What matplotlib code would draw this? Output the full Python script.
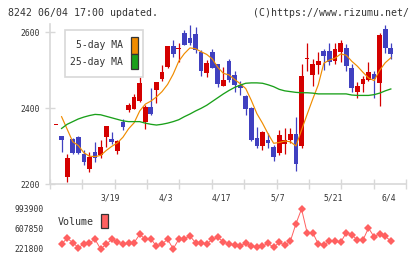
import matplotlib
matplotlib.use("Agg")
import matplotlib.pyplot as plt
import matplotlib.transforms as mtransforms
from matplotlib.patches import Rectangle
import numpy as np

W, H = 420, 259

# daily candles (index 0 = first visible day, 60 = 6/4)
opens = [2356, 2327, 2218, 2319, 2324, 2280, 2240, 2286, 2277, 2324,
         2319, 2288, 2365, 2396, 2399, 2419, 2363, 2404, 2448, 2477,
         2508, 2564, 2555, 2598, 2584, 2595, 2547, 2494, 2547, 2516,
         2459, 2525, 2488, 2462, 2433, 2401, 2321, 2302, 2317, 2297,
         2283, 2305, 2317, 2332, 2302, 2529, 2488, 2514, 2551, 2551,
         2525, 2549, 2560, 2505, 2444, 2464, 2474, 2490, 2467, 2610, 2560]
closes = [2356, 2317, 2268, 2283, 2283, 2260, 2271, 2268, 2297, 2353,
          2311, 2314, 2350, 2409, 2430, 2467, 2404, 2384, 2468, 2495,
          2564, 2542, 2555, 2566, 2571, 2553, 2498, 2520, 2507, 2463,
          2474, 2474, 2462, 2453, 2398, 2317, 2301, 2338, 2310, 2273,
          2330, 2317, 2332, 2253, 2485, 2532, 2517, 2524, 2538, 2523,
          2556, 2573, 2512, 2454, 2460, 2477, 2495, 2477, 2593, 2559, 2543]
highs = [2357, 2327, 2279, 2322, 2327, 2289, 2286, 2312, 2317, 2353,
         2338, 2316, 2372, 2415, 2439, 2483, 2410, 2454, 2468, 2514,
         2564, 2580, 2572, 2605, 2619, 2615, 2553, 2527, 2555, 2518,
         2509, 2531, 2498, 2471, 2435, 2404, 2352, 2340, 2334, 2304,
         2343, 2349, 2349, 2378, 2516, 2571, 2531, 2549, 2556, 2573,
         2573, 2581, 2569, 2516, 2470, 2486, 2521, 2498, 2597, 2619, 2571]
lows = [2355, 2284, 2207, 2281, 2281, 2251, 2233, 2258, 2268, 2299,
        2306, 2280, 2342, 2391, 2397, 2417, 2345, 2382, 2413, 2472,
        2505, 2536, 2523, 2566, 2567, 2545, 2485, 2483, 2505, 2457,
        2458, 2470, 2444, 2436, 2382, 2314, 2295, 2291, 2295, 2262,
        2276, 2279, 2308, 2236, 2295, 2498, 2460, 2490, 2501, 2514,
        2516, 2523, 2499, 2444, 2427, 2444, 2472, 2427, 2407, 2546, 2529]

# moving averages and volume start at index 1
ma5 = [2378, 2345, 2312, 2302, 2283, 2274, 2273, 2276, 2289, 2300,
       2309, 2324, 2346, 2362, 2393, 2411, 2419, 2430, 2444, 2463,
       2490, 2524, 2544, 2559, 2557, 2549, 2542, 2530, 2508, 2492,
       2488, 2476, 2465, 2452, 2421, 2386, 2361, 2333, 2308, 2310,
       2314, 2312, 2301, 2343, 2384, 2424, 2462, 2519, 2527, 2532,
       2543, 2540, 2524, 2511, 2495, 2480, 2473, 2500, 2520, 2533]
ma25 = [2347, 2358, 2365, 2372, 2377, 2381, 2384, 2383, 2379, 2375,
        2371, 2367, 2365, 2365, 2365, 2361, 2358, 2356, 2358, 2361,
        2365, 2370, 2378, 2385, 2393, 2400, 2408, 2418, 2428, 2438,
        2447, 2455, 2461, 2466, 2467, 2467, 2466, 2462, 2457, 2450,
        2446, 2444, 2442, 2441, 2441, 2440, 2438, 2438, 2438, 2438,
        2438, 2438, 2435, 2434, 2434, 2434, 2436, 2440, 2446, 2451]
volume = [317000, 430000, 345000, 250000, 314000, 345000, 406000, 221800, 314000, 406000,
          360000, 314000, 330000, 345000, 504000, 409000, 421000, 272000, 320000, 409000,
          225000, 409000, 421000, 472000, 345000, 345000, 317000, 406000, 444000, 361000,
          317000, 298000, 285000, 330000, 279000, 254000, 279000, 330000, 254000, 349000,
          298000, 374000, 710000, 993900, 539000, 539000, 317000, 298000, 374000, 374000,
          349000, 533000, 501000, 393000, 393000, 627000, 456000, 520000, 469000, 374000]

date_labels = ["3/19", "4/3", "4/17", "5/7", "5/21", "6/4"]
date_pos = [10, 20, 30, 40, 50, 60]
price_ticks = [2200, 2400, 2600]
vol_ticks = [221800, 607850, 993900]

UP, DOWN = "#d40000", "#4040c0"
C5, C25, CVOL = "#f08c00", "#1aa01a", "#ff6060"
GRID = "#d8d8d8"
TXT = "#333333"
MONO = "DejaVu Sans Mono"


def box(l, t, r, b):
    return [l / W, 1 - b / H, (r - l) / W, (b - t) / H]


def fig_rect(l, t, r, b, **kw):
    fig.add_artist(Rectangle((l / W, 1 - b / H), (r - l) / W, (b - t) / H,
                             transform=fig.transFigure, **kw))


fig = plt.figure(figsize=(W / 100, H / 100), dpi=100)

o, c = np.array(opens), np.array(closes)
idx = np.arange(len(opens))
cols = [UP if cc >= oo else DOWN for oo, cc in zip(o, c)]
xlim = (-1.075, 62.72)

ax = fig.add_axes(box(50, 24, 406, 184.3))
ax.vlines(idx, lows, highs, colors=cols, lw=0.9, zorder=2)
ax.bar(idx, np.maximum(np.abs(c - o), 3.5), bottom=np.minimum(o, c),
       width=0.85, color=cols, zorder=3)
ax.plot(idx[1:], ma5, color=C5, lw=0.85, zorder=4)
ax.plot(idx[1:], ma25, color=C25, lw=0.95, zorder=4)
ax.set_xlim(*xlim)
ax.set_ylim(2200, 2622)
ax.set_xticks(np.linspace(xlim[0], xlim[1], 12))
ax.set_yticks(price_ticks)
ax.set_yticklabels([str(t) for t in price_ticks], family=MONO, fontsize=5.8, color=TXT)
ax.tick_params(direction="inout", length=6.5, color=GRID, width=1, pad=4)
ax.tick_params(axis="x", labelbottom=False)
for s in ["top", "right"]:
    ax.spines[s].set_visible(False)
for s in ["left", "bottom"]:
    ax.spines[s].set_color(GRID)
    ax.spines[s].set_linewidth(1.2)

trans = mtransforms.blended_transform_factory(ax.transData, ax.transAxes)
for p, lab in zip(date_pos, date_labels):
    ax.text(p - 0.3, -0.084, lab, transform=trans, ha="center", va="center",
            family=MONO, fontsize=5.8, color=TXT)

# legend of the price panel
fig_rect(65, 30, 143, 77, facecolor="white", edgecolor=GRID, lw=1.2, zorder=5)
fig_rect(131, 37, 137.7, 53.5, facecolor=C5, edgecolor="#333333", lw=0.9, zorder=6)
fig_rect(131, 54.5, 137.7, 69.3, facecolor=C25, edgecolor="#333333", lw=0.9, zorder=6)
fig.text(123 / W, 1 - 45.5 / H, "5-day MA", ha="right", va="center",
         family=MONO, fontsize=7, color=TXT, zorder=7)
fig.text(123 / W, 1 - 62 / H, "25-day MA", ha="right", va="center",
         family=MONO, fontsize=7, color=TXT, zorder=7)

# volume panel
vax = fig.add_axes(box(50, 209, 406, 249))
vax.plot(idx[1:], volume, color=CVOL, lw=0.7, marker="D", ms=4.2, mew=0,
         clip_on=False)
vax.set_xlim(*xlim)
vax.set_ylim(vol_ticks[0], vol_ticks[-1])
vax.set_xticks([])
vax.set_yticks(vol_ticks)
vax.set_yticklabels([str(t) for t in vol_ticks], family=MONO, fontsize=5.8, color=TXT)
vax.tick_params(length=0, pad=4.3)
for s in vax.spines.values():
    s.set_visible(False)
vax.patch.set_alpha(0)

fig.text(58 / W, 1 - 222.3 / H, "Volume", ha="left", va="center",
         family=MONO, fontsize=7.2, color=TXT)
fig_rect(101, 213.7, 107.7, 228.3, facecolor=CVOL, edgecolor="#333333", lw=0.9)

fig.text(8 / W, 1 - 12.5 / H, "8242 06/04 17:00 updated.", ha="left", va="center",
         family=MONO, fontsize=7.1, color=TXT)
fig.text(409 / W, 1 - 12.5 / H, "(C)https://www.rizumu.net/", ha="right", va="center",
         family=MONO, fontsize=7.1, color=TXT)

fig.savefig("out.png", dpi=100)
